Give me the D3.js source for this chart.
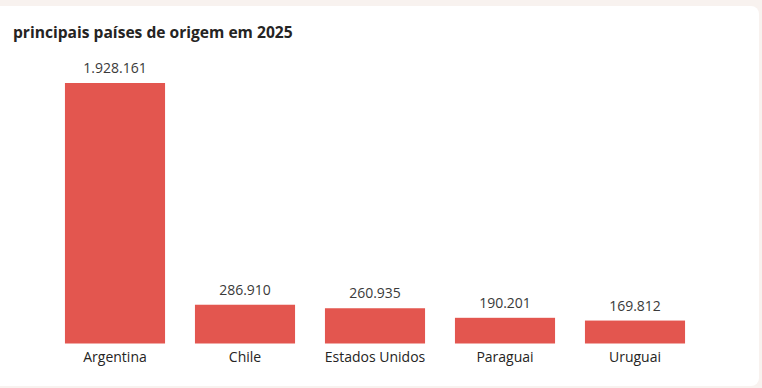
<!DOCTYPE html>
<html>
<head>
<meta charset="utf-8">
<script src="https://cdn.jsdelivr.net/npm/d3@7"></script>
<style>
  body { margin: 0; background: #f8f2ef; }
  svg { display: block; }
</style>
</head>
<body>
<svg id="chart" width="762" height="388"></svg>
<script>
// Data
var countries = ["Argentina", "Chile", "Estados Unidos", "Paraguai", "Uruguai"];
var visitors = [1928161, 286910, 260935, 190201, 169812];
var title = "principais países de origem em 2025";

var svg = d3.select("#chart");
var font = "'Open Sans', 'Segoe UI', sans-serif";

// card
svg.append("rect")
    .attr("x", -10).attr("y", 6)
    .attr("width", 769).attr("height", 380)
    .attr("rx", 8)
    .attr("fill", "#ffffff");

svg.append("text")
    .attr("x", 13).attr("y", 38)
    .attr("font-family", font)
    .attr("font-size", 15.6)
    .attr("font-weight", 700)
    .attr("fill", "#252423")
    .text(title);

// Scales
var x = d3.scaleBand()
    .domain(countries)
    .range([50, 700])
    .paddingInner(0.23)
    .paddingOuter(0.115);

var y = d3.scaleLinear()
    .domain([0, d3.max(visitors)])
    .range([343.5, 83]);

var data = countries.map(function(c, i){ return {name: c, value: visitors[i]}; });
var fmt = function(v){ return d3.format(",")(v).replace(/,/g, "."); };

svg.selectAll("rect.bar").data(data).enter().append("rect")
    .attr("class", "bar")
    .attr("x", function(d){ return x(d.name); })
    .attr("y", function(d){ return y(d.value); })
    .attr("width", x.bandwidth())
    .attr("height", function(d){ return y(0) - y(d.value); })
    .attr("fill", "#e3564f");

svg.selectAll("text.val").data(data).enter().append("text")
    .attr("class", "val")
    .attr("x", function(d){ return x(d.name) + x.bandwidth()/2; })
    .attr("y", function(d){ return y(d.value) - 10; })
    .attr("text-anchor", "middle")
    .attr("font-family", font)
    .attr("font-size", 14)
    .attr("fill", "#3a3a3a")
    .text(function(d){ return fmt(d.value); });

// x axis labels
var axis = svg.append("g")
    .attr("transform", "translate(0," + y(0) + ")")
    .call(d3.axisBottom(x).tickSize(0).tickPadding(9));
axis.select(".domain").remove();
axis.selectAll("text")
    .attr("font-family", font)
    .attr("font-size", 14)
    .attr("fill", "#252423");
</script>
</body>
</html>
